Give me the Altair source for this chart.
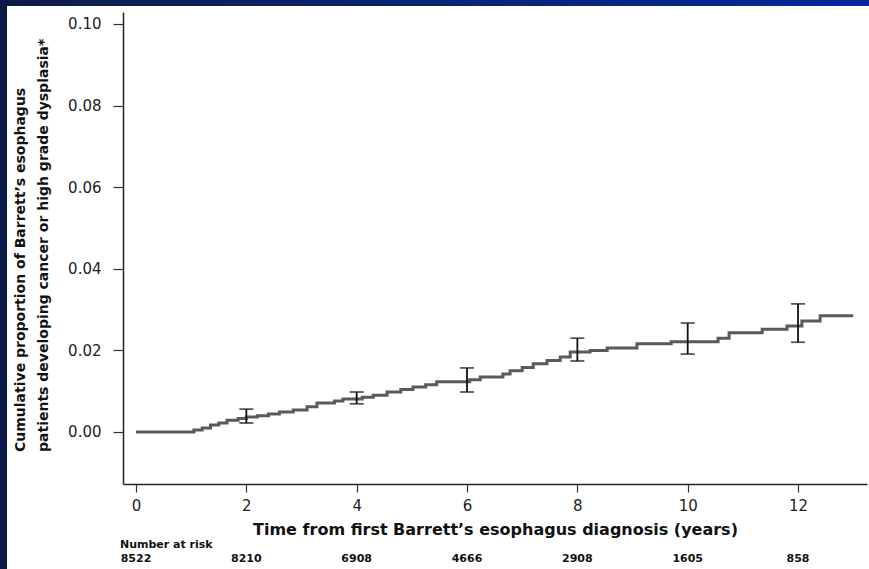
import altair as alt
import pandas as pd

# Kaplan-Meier style cumulative incidence (step function)
times = [0, 1.05, 1.2, 1.35, 1.5, 1.65, 1.85, 2.0, 2.2, 2.4, 2.6, 2.85, 3.1, 3.28,
         3.6, 3.75, 4.1, 4.3, 4.55, 4.8, 5.02, 5.25, 5.45, 6.05, 6.24, 6.65, 6.78,
         7.0, 7.2, 7.45, 7.69, 7.87, 8.23, 8.54, 9.08, 9.7, 10.55, 10.75, 11.35,
         11.8, 12.07, 12.4, 13.0]
cum = [0, 0.0005, 0.0010, 0.0017, 0.0022, 0.0029, 0.0033, 0.0037, 0.0040, 0.0044,
       0.0049, 0.0054, 0.0062, 0.0071, 0.0076, 0.0081, 0.0085, 0.0090, 0.0098,
       0.0104, 0.0110, 0.0116, 0.0123, 0.0128, 0.0135, 0.0142, 0.0150, 0.0158,
       0.0167, 0.0175, 0.0184, 0.0196, 0.0200, 0.0206, 0.0216, 0.0221, 0.0230,
       0.0243, 0.0252, 0.0260, 0.0272, 0.0285, 0.0285]

ci_time = [2, 4, 6, 8, 10, 12]
ci_low = [0.0022, 0.0069, 0.0098, 0.0174, 0.0191, 0.0220]
ci_high = [0.0056, 0.0098, 0.0157, 0.0230, 0.0267, 0.0314]

risk_time = [0, 2, 4, 6, 8, 10, 12]
risk_n = ["8522", "8210", "6908", "4666", "2908", "1605", "858"]

x_ticks = [0, 2, 4, 6, 8, 10, 12]
y_ticks = [0.0, 0.02, 0.04, 0.06, 0.08, 0.10]

y_title_1 = "Cumulative proportion of Barrett\u2019s esophagus"
y_title_2 = "patients developing cancer or high grade dysplasia*"
x_title = "Time from first Barrett\u2019s esophagus diagnosis (years)"

curve_df = pd.DataFrame({"t": times, "p": cum})
ci_df = pd.DataFrame({"t": ci_time, "lo": ci_low, "hi": ci_high})
risk_df = pd.DataFrame({"t": risk_time, "n": risk_n})
one = pd.DataFrame({"a": [0]})

xscale = alt.Scale(domain=[-0.2357, 13.25], nice=False, zero=False)
yscale = alt.Scale(domain=[-0.01275, 0.10294], nice=False, zero=False)

FONT = "DejaVu Sans"

xaxis = alt.Axis(values=x_ticks, title=x_title, grid=False, tickSize=8, tickWidth=1.2,
                 tickColor="#333", domainColor="#222", domainWidth=1.5,
                 labelFont=FONT, labelFontSize=15, labelColor="#222", labelPadding=6,
                 labelFlush=False, labelOverlap=False,
                 titleFont=FONT, titleFontSize=16, titleFontWeight="bold",
                 titleColor="#111", titlePadding=8)
yaxis = alt.Axis(values=y_ticks, format=".2f", title=None, grid=False, tickSize=10,
                 tickWidth=1.2, tickColor="#333", domainColor="#222", domainWidth=1.5,
                 labelFont=FONT, labelFontSize=15, labelColor="#222", labelPadding=12,
                 labelFlush=False, labelOverlap=False)

line = alt.Chart(curve_df).mark_line(interpolate="step-after", color="#5a5a5a",
                                     strokeWidth=3).encode(
    x=alt.X("t:Q", scale=xscale, axis=xaxis),
    y=alt.Y("p:Q", scale=yscale, axis=yaxis),
)

bars = alt.Chart(ci_df).mark_rule(color="#111", strokeWidth=1.8).encode(
    x=alt.X("t:Q", scale=xscale),
    y=alt.Y("lo:Q", scale=yscale),
    y2="hi:Q",
)
cap_lo = alt.Chart(ci_df).mark_tick(orient="horizontal", color="#111", size=14,
                                    thickness=1.8).encode(
    x=alt.X("t:Q", scale=xscale), y=alt.Y("lo:Q", scale=yscale))
cap_hi = alt.Chart(ci_df).mark_tick(orient="horizontal", color="#111", size=14,
                                    thickness=1.8).encode(
    x=alt.X("t:Q", scale=xscale), y=alt.Y("hi:Q", scale=yscale))

risk_head = alt.Chart(one).mark_text(text="Number at risk", font=FONT, fontSize=11,
                                     fontWeight="bold", align="left",
                                     baseline="alphabetic", color="#111").encode(
    x=alt.value(-3), y=alt.value(536))
risk_nums = alt.Chart(risk_df).mark_text(font=FONT, fontSize=11, fontWeight="bold",
                                         align="center", baseline="alphabetic",
                                         color="#111").encode(
    x=alt.X("t:Q", scale=xscale), y=alt.value(550), text="n:N")

ytitle1 = alt.Chart(one).mark_text(text=y_title_1, font=FONT, fontSize=14,
                                   fontWeight="bold", angle=270, align="left",
                                   baseline="alphabetic", color="#111").encode(
    x=alt.value(-98), y=alt.value(440))
ytitle2 = alt.Chart(one).mark_text(text=y_title_2, font=FONT, fontSize=14,
                                   fontWeight="bold", angle=270, align="left",
                                   baseline="alphabetic", color="#111").encode(
    x=alt.value(-75), y=alt.value(440))

top_strip = alt.Chart(one).mark_rect(
    color=alt.LinearGradient(gradient="linear",
                             stops=[alt.GradientStop(color="#101b47", offset=0),
                                    alt.GradientStop(color="#0a2475", offset=0.5),
                                    alt.GradientStop(color="#00289a", offset=1)],
                             x1=0, x2=1, y1=0, y2=0)).encode(
    x=alt.value(-123), x2=alt.value(746), y=alt.value(-12), y2=alt.value(-6))
left_strip = alt.Chart(one).mark_rect(color="#0c1a4a").encode(
    x=alt.value(-123), x2=alt.value(-116), y=alt.value(-12), y2=alt.value(557))

chart = alt.layer(
    line, bars, cap_lo, cap_hi, risk_head, risk_nums, ytitle1, ytitle2,
    top_strip, left_strip
).properties(
    width=744, height=472,
    autosize=alt.AutoSizeParams(type="none"),
    padding={"left": 123, "top": 12, "right": 2, "bottom": 85},
    background="white",
).configure_view(strokeWidth=0)

chart.save("out.html", embed_options={"renderer": "svg", "actions": False})
